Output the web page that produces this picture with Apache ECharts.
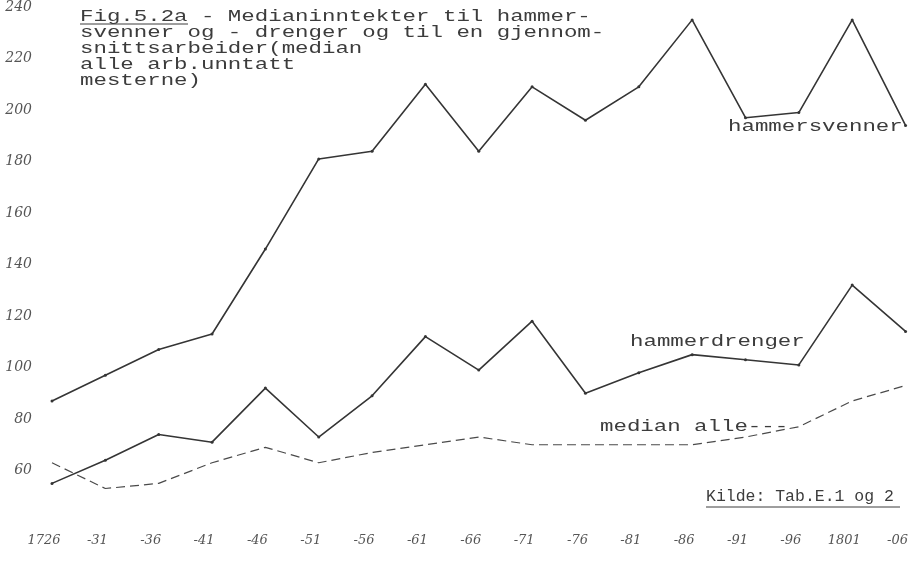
<!DOCTYPE html>
<html>
<head>
<meta charset="utf-8">
<script src="https://cdn.jsdelivr.net/npm/echarts@6/dist/echarts.min.js"></script>
<style>
  html, body { margin: 0; padding: 0; background: #fff; }
  #chart { width: 911px; height: 568px; }
</style>
</head>
<body>
<div id="chart"></div>
<script>
// år (5-års intervaller)
const years = ['1726', '-31', '-36', '-41', '-46', '-51', '-56', '-61', '-66', '-71', '-76', '-81', '-86', '-91', '-96', '1801', '-06']
// medianinntekter
const hammersvenner = [87, 97, 107, 113, 146, 181, 184, 210, 184, 209, 196, 209, 235, 197, 199, 235, 194]
const hammerdrenger = [55, 64, 74, 71, 92, 73, 89, 112, 99, 118, 90, 98, 105, 103, 101, 132, 114]
const medianAlle = [63, 53, 55, 63, 69, 63, 67, 70, 73, 70, 70, 70, 70, 73, 77, 87, 93]
const yTicks = [60, 80, 100, 120, 140, 160, 180, 200, 220, 240]

const typeFont = '"Liberation Mono", "DejaVu Sans Mono", monospace'
const inkText = '#3c3c3c'
const inkLine = '#353535'

const chart = echarts.init(document.getElementById('chart'))

function typed(x, y, text, scaleX) {
  return {
    type: 'text',
    x: x,
    y: y,
    scaleX: scaleX,
    style: {
      text: text,
      font: '16px ' + typeFont,
      fill: inkText,
      lineHeight: 16,
      verticalAlign: 'top'
    }
  }
}

function underline(x1, x2, y) {
  return {
    type: 'line',
    shape: { x1: x1, y1: y, x2: x2, y2: y },
    style: { stroke: inkText, lineWidth: 1 }
  }
}

const option = {
  backgroundColor: '#ffffff',
  animation: false,
  grid: {
    left: 52,
    right: 1,
    top: -4,
    height: 526
  },
  xAxis: {
    type: 'category',
    data: years,
    boundaryGap: false,
    axisLine: { show: false },
    axisTick: { show: false },
    splitLine: { show: false },
    axisLabel: {
      interval: 0,
      margin: 12,
      padding: [0, 16, 0, 0],
      color: '#555',
      fontFamily: 'DejaVu Serif',
      fontStyle: 'italic',
      fontSize: 13
    }
  },
  yAxis: {
    type: 'value',
    min: 40,
    max: 240,
    interval: 20,
    axisLine: { show: false },
    axisTick: { show: false },
    splitLine: { show: false },
    axisLabel: {
      margin: 20,
      color: '#555',
      fontFamily: 'DejaVu Serif',
      fontStyle: 'italic',
      fontSize: 14,
      formatter: function (v) {
        return yTicks.indexOf(v) >= 0 ? String(v) : ''
      }
    }
  },
  series: [
    {
      name: 'hammersvenner',
      type: 'line',
      data: hammersvenner,
      symbol: 'circle',
      symbolSize: 3,
      itemStyle: { color: inkLine },
      lineStyle: { color: inkLine, width: 1.6 }
    },
    {
      name: 'hammerdrenger',
      type: 'line',
      data: hammerdrenger,
      symbol: 'circle',
      symbolSize: 3,
      itemStyle: { color: inkLine },
      lineStyle: { color: inkLine, width: 1.6 }
    },
    {
      name: 'median alle',
      type: 'line',
      data: medianAlle,
      symbol: 'none',
      lineStyle: { color: '#4a4a4a', width: 1.2, type: [9, 5] }
    }
  ],
  graphic: [
    typed(80, 9, 'Fig.5.2a - Medianinntekter til hammer-\nsvenner og - drenger og til en gjennom-\nsnittsarbeider(median\nalle arb.unntatt\nmesterne)', 1.4),
    underline(80, 188, 24),
    typed(728, 119, 'hammersvenner', 1.4),
    typed(630, 334, 'hammerdrenger', 1.4),
    typed(600, 419, 'median alle---', 1.4),
    typed(706, 489, 'Kilde: Tab.E.1 og 2', 1.03),
    underline(706, 900, 507)
  ]
}

chart.setOption(option)
</script>
</body>
</html>
